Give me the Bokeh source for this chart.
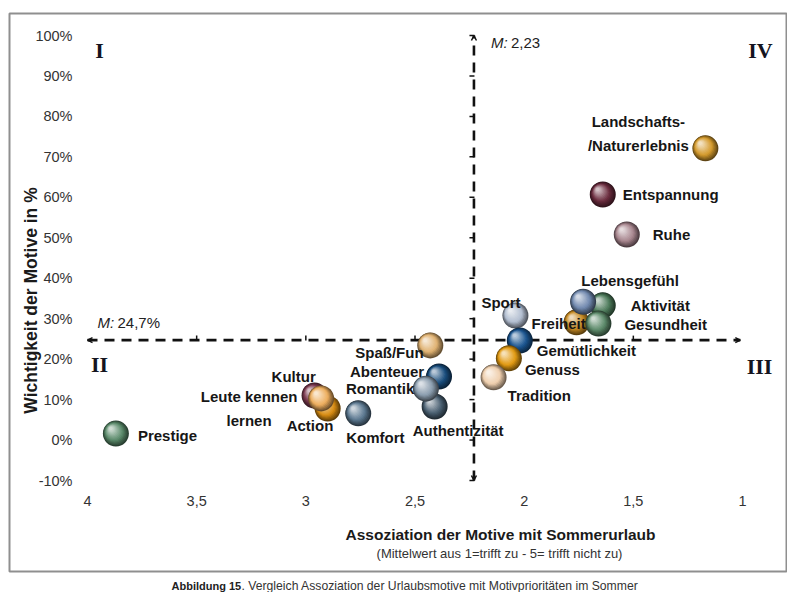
import math
from bokeh.plotting import figure
from bokeh.models import (Range1d, FixedTicker, Label, LinearAxis,
                          ColumnDataSource, Arrow, OpenHead)
from bokeh.embed import file_html
from bokeh.resources import INLINE
from bokeh.core.properties import value

# ---------------- data (draw order: back to front) ----------------
motives = ["Landschafts-\n/Naturerlebnis", "Entspannung", "Ruhe", "Freiheit",
           "Aktivität", "Lebensgefühl", "Gesundheit", "Sport", "Gemütlichkeit",
           "Genuss", "Tradition", "Spaß/Fun", "Abenteuer", "Authentizität",
           "Romantik", "Komfort", "Kultur", "Action", "Leute kennen\nlernen",
           "Prestige"]
association = [1.17, 1.64, 1.53, 1.76, 1.64, 1.73, 1.66, 2.04, 2.02,
               2.07, 2.14, 2.43, 2.39, 2.41, 2.45, 2.76, 2.96, 2.90, 2.93,
               3.87]
importance = [72.1, 60.7, 50.8, 29.1, 33.3, 34.2, 28.8, 30.8, 24.6,
              20.2, 15.5, 23.4, 15.7, 8.3, 12.7, 6.6, 11.0, 7.8, 10.3,
              1.6]
colors = ["#D49A2C", "#6A2C3E", "#A8868F", "#C68A22", "#4C7A5A", "#7088AE",
          "#5C8A6A", "#B2BED0", "#1B5590", "#E29A12", "#EFCFAE", "#E0B272",
          "#184C7C", "#4A6072", "#8A9CAE", "#5B7890", "#7C3A50", "#D88C12",
          "#EDAE5E", "#5A8A6A"]

mean_assoc = 2.23
mean_importance = 24.7
mean_assoc_label = "2,23"
mean_importance_label = "24,7%"

x_ticks = [4, 3.5, 3, 2.5, 2, 1.5, 1]
x_tick_labels = ["4", "3,5", "3", "2,5", "2", "1,5", "1"]
y_ticks = [-10, 0, 10, 20, 30, 40, 50, 60, 70, 80, 90, 100]
y_tick_labels = ["-10%", "0%", "10%", "20%", "30%", "40%", "50%", "60%",
                 "70%", "80%", "90%", "100%"]
quadrants = ["I", "II", "III", "IV"]

x_title = "Assoziation der Motive mit Sommerurlaub"
x_subtitle = "(Mittelwert aus 1=trifft zu - 5= trifft nicht zu)"
y_title = "Wichtigkeit der Motive in %"
caption_bold = "Abbildung 15"
caption_rest = ". Vergleich Assoziation der Urlaubsmotive mit Motivprioritäten im Sommer"

# ---------------- layout (pixels) ----------------
W, H = 787, 592
X4, X1 = 87, 742                           # x of value 4 and value 1
Y100, YM10 = 35, 480                       # y of 100% and -10%
SX = (X1 - X4) / 3.0
SY = (YM10 - Y100) / 110.0


def px2x(px):
    return 4 - (px - X4) / SX


def py2y(py):
    return 100 - (py - Y100) / SY


# label offsets in px relative to the bubble (dx right, dy down), alignment
label_layout = {
    "Landschafts-\n/Naturerlebnis": (-67, -15, "center"),
    "Entspannung": (20, 0, "left"),
    "Ruhe": (26, 0, "left"),
    "Freiheit": (-45, 1, "left"),
    "Aktivität": (28, 0, "left"),
    "Lebensgefühl": (47, -21, "center"),
    "Gesundheit": (26, 1, "left"),
    "Sport": (-34, -13, "left"),
    "Gemütlichkeit": (17, 10, "left"),
    "Genuss": (16, 11, "left"),
    "Tradition": (14, 18, "left"),
    "Spaß/Fun": (-75, 7, "left"),
    "Abenteuer": (-89, -5, "left"),
    "Authentizität": (-22, 24, "left"),
    "Romantik": (-80, 0, "left"),
    "Komfort": (-12, 24, "left"),
    "Kultur": (-43, -19, "left"),
    "Action": (-41, 17, "left"),
    "Leute kennen\nlernen": (-72, 10, "center"),
    "Prestige": (22, 2, "left"),
}

FONT = "Liberation Sans"
SERIF = "Liberation Serif"

p = figure(width=W, height=H, output_backend="svg", toolbar_location=None,
           x_range=Range1d(px2x(0), px2x(W)),
           y_range=Range1d(py2y(H), py2y(0)),
           x_axis_location=None, y_axis_location=None,
           min_border=0, background_fill_color="white",
           border_fill_color="white")
p.outline_line_color = None
p.grid.visible = False

axis_kw = dict(axis_line_color=None, major_tick_line_color=None,
               minor_tick_line_color=None, major_tick_out=0, major_tick_in=0,
               major_label_text_font=FONT, major_label_text_font_size="14.5px",
               major_label_text_color="#333333")
xaxis = LinearAxis(fixed_location=min(y_ticks), ticker=FixedTicker(ticks=x_ticks),
                   major_label_overrides=dict(zip(x_ticks, x_tick_labels)),
                   major_label_standoff=15, **axis_kw)
yaxis = LinearAxis(fixed_location=max(x_ticks), ticker=FixedTicker(ticks=y_ticks),
                   major_label_overrides=dict(zip(y_ticks, y_tick_labels)),
                   major_label_standoff=15, **axis_kw)
p.add_layout(xaxis, "below")
p.add_layout(yaxis, "left")

# chart border
p.quad(left=[px2x(9)], right=[px2x(786)], top=[py2y(13)], bottom=[py2y(571)],
       fill_color=None, line_color="#8f8f8f", line_width=2)

# ---------------- mean lines ----------------
dash_kw = dict(line_color="#111111", line_width=2.6, line_dash="10 7")
p.segment(x0=[mean_assoc], y0=[min(y_ticks)], x1=[mean_assoc], y1=[max(y_ticks)], **dash_kw)
p.segment(x0=[max(x_ticks)], y0=[mean_importance], x1=[min(x_ticks) + 0.01],
          y1=[mean_importance], **dash_kw)
p.scatter(x=[mean_assoc + 2 / SX] * len(y_ticks), y=y_ticks, marker="dash",
          size=5, line_color="#111111", line_width=1.5)
p.scatter(x=x_ticks[1:-1], y=[mean_importance + 2 / SY] * (len(x_ticks) - 2),
          marker="dash", angle=math.pi / 2, size=5, line_color="#111111",
          line_width=1.5)
head = dict(size=5, line_width=1.5, line_color="#111111")
p.add_layout(Arrow(end=OpenHead(**head), x_start=mean_assoc, y_start=max(y_ticks) - 1,
                   x_end=mean_assoc, y_end=max(y_ticks), line_alpha=0))
p.add_layout(Arrow(end=OpenHead(**head), x_start=mean_assoc, y_start=min(y_ticks) + 1,
                   x_end=mean_assoc, y_end=min(y_ticks), line_alpha=0))
p.add_layout(Arrow(end=OpenHead(**head), x_start=max(x_ticks) - 0.02, y_start=mean_importance,
                   x_end=max(x_ticks), y_end=mean_importance, line_alpha=0))
p.add_layout(Arrow(end=OpenHead(**head), x_start=min(x_ticks) + 0.03, y_start=mean_importance,
                   x_end=min(x_ticks) + 0.01, y_end=mean_importance, line_alpha=0))


# ---------------- spheres ----------------
def hex2rgb(h):
    h = h.lstrip("#")
    return [int(h[i:i + 2], 16) for i in (0, 2, 4)]


def rgb2hex(c):
    return "#%02x%02x%02x" % tuple(max(0, min(255, int(round(v)))) for v in c)


def mix(a, b, t):
    return [a[i] + (b[i] - a[i]) * t for i in range(3)]


D = 26
N = 14
for name, xv, yv, col in zip(motives, association, importance, colors):
    base = hex2rgb(col)
    dark = [v * 0.45 for v in base]
    light = mix(base, [255, 255, 255], 0.7)
    xs, ys, ss, cs = [], [], [], []
    for k in range(N):
        t = k / (N - 1)
        s = D * (1 - 0.86 * t)
        off = t * 5.0
        xs.append(xv + off / SX)
        ys.append(yv + off / SY)
        ss.append(s)
        if t < 0.35:
            c = mix(dark, base, t / 0.35)
        else:
            c = mix(base, light, (t - 0.35) / 0.65)
        cs.append(rgb2hex(c))
    src = ColumnDataSource(dict(x=xs, y=ys, s=ss, c=cs))
    p.scatter("x", "y", size="s", fill_color="c", line_color=None, source=src)

# ---------------- point labels ----------------
lx, ly, la = [], [], []
for name, xv, yv in zip(motives, association, importance):
    dx, dy, al = label_layout[name]
    lx.append(xv - dx / SX)
    ly.append(yv - dy / SY)
    la.append(al)
p.text(x=lx, y=ly, text=motives, text_align=la, text_baseline="middle",
       text_font=value(FONT), text_font_style="bold", text_font_size="15px",
       text_color="#161616", text_line_height=1.4)

# ---------------- quadrant labels ----------------
q_pos = [(99, 50), (99, 364), (759, 366), (760, 50)]
p.text(x=[px2x(a) for a, b in q_pos], y=[py2y(b) for a, b in q_pos], text=quadrants,
       text_align="center", text_baseline="middle", text_font=value(SERIF),
       text_font_style="bold", text_font_size="22px", text_color="#141420")

# ---------------- mean labels ----------------
m_kw = dict(text_font=FONT, text_font_size="15px", text_color="#222222",
            text_baseline="middle", text_align="left")
p.add_layout(Label(x=mean_assoc - 17 / SX, y=py2y(42), text="M:",
                   text_font_style="italic", **m_kw))
p.add_layout(Label(x=mean_assoc - 37 / SX, y=py2y(42), text=mean_assoc_label, **m_kw))
p.add_layout(Label(x=px2x(97), y=mean_importance + 18 / SY, text="M:",
                   text_font_style="italic", **m_kw))
p.add_layout(Label(x=px2x(117), y=mean_importance + 18 / SY, text=mean_importance_label, **m_kw))

# ---------------- titles & caption ----------------
p.add_layout(Label(x=px2x(500), y=py2y(534), text=x_title, text_font=FONT,
                   text_font_style="bold", text_font_size="15.5px", text_color="#1a1a1a",
                   text_align="center", text_baseline="middle"))
p.add_layout(Label(x=px2x(499), y=py2y(553), text=x_subtitle, text_font=FONT,
                   text_font_size="13px", text_color="#333333",
                   text_align="center", text_baseline="middle"))
p.add_layout(Label(x=px2x(30), y=py2y(300), text=y_title, text_font=FONT,
                   text_font_style="bold", text_font_size="17.5px", text_color="#1a1a1a",
                   text_align="center", text_baseline="middle", angle=math.pi / 2))
p.add_layout(Label(x=px2x(171), y=py2y(585), text=caption_bold, text_font=FONT,
                   text_font_style="bold", text_font_size="11px", text_color="#222222",
                   text_align="left", text_baseline="middle"))
p.add_layout(Label(x=px2x(241), y=py2y(585), text=caption_rest, text_font=FONT,
                   text_font_size="12.2px", text_color="#333333",
                   text_align="left", text_baseline="middle"))

open("out.html", "w").write(file_html(p, INLINE))
